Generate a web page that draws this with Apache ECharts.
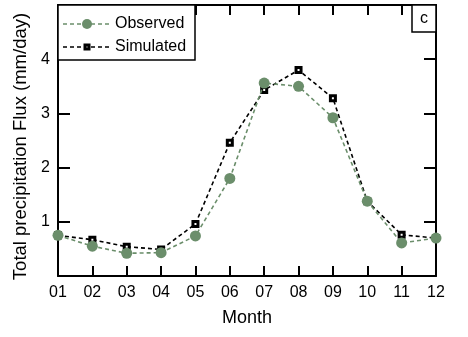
<!DOCTYPE html>
<html><head><meta charset="utf-8">
<script src="https://cdn.jsdelivr.net/npm/echarts@6/dist/echarts.min.js"></script>
<style>html,body{margin:0;padding:0;background:#fff}#c{width:468px;height:337px}</style>
</head><body><div id="c"></div>
<script>
var months = [1,2,3,4,5,6,7,8,9,10,11,12];
var observed = [0.75,0.55,0.42,0.43,0.74,1.80,3.56,3.50,2.92,1.38,0.61,0.70];
var simulated = [0.75,0.67,0.54,0.49,0.96,2.46,3.43,3.80,3.28,1.38,0.76,0.70];
var yTicks = [1,2,3,4];
var seriesNames = ['Observed','Simulated'];
var panelLabel = 'c';

var green = '#6b8e6b';
var font = 'Liberation Sans, Arial, sans-serif';
function pairs(v){ return months.map(function(m,i){ return [m, v[i]]; }); }
var chart = echarts.init(document.getElementById('c'));
var axisBase = {
  axisLine:{show:true,onZero:false,lineStyle:{color:'#000',width:2}},
  splitLine:{show:false}
};
chart.setOption({
  animation:false,
  grid:{left:58,right:32,top:5,bottom:61},
  xAxis:[
    Object.assign({}, axisBase, {type:'value',min:1,max:12,interval:1,position:'bottom',
      axisTick:{show:true,inside:true,length:10,lineStyle:{color:'#000',width:2}},
      axisLabel:{margin:9,color:'#000',fontSize:16,fontFamily:font,
        formatter:function(v){return (v<10?'0':'')+v;}},
      name:'Month',nameLocation:'middle',nameGap:33,
      nameTextStyle:{color:'#000',fontSize:18,fontFamily:font}}),
    Object.assign({}, axisBase, {type:'value',min:1,max:12,interval:1,position:'top',
      axisTick:{show:true,inside:true,length:10,lineStyle:{color:'#000',width:2}},
      axisLabel:{show:false}})
  ],
  yAxis:[
    Object.assign({}, axisBase, {type:'value',min:0,max:5,interval:1,position:'left',
      axisTick:{show:true,inside:true,length:12,lineStyle:{color:'#000',width:2}},
      axisLabel:{margin:8,color:'#000',fontSize:16,fontFamily:font,
        formatter:function(v){return yTicks.indexOf(v)>=0?String(v):'';}},
      name:'Total precipitation Flux (mm/day)',nameLocation:'middle',nameGap:22,
      nameTextStyle:{color:'#000',fontSize:18.5,fontFamily:font,padding:[0,12,0,0]}}),
    Object.assign({}, axisBase, {type:'value',min:0,max:5,interval:1,position:'right',
      axisTick:{show:true,inside:true,length:12,lineStyle:{color:'#000',width:2}},
      axisLabel:{show:false}})
  ],
  series:[
    {name:seriesNames[1],type:'line',data:pairs(simulated),symbol:'rect',symbolSize:5,
      lineStyle:{color:'#000',width:1.6,type:[4,3]},
      itemStyle:{color:'#fff',borderColor:'#000',borderWidth:3},z:2},
    {name:seriesNames[0],type:'line',data:pairs(observed),symbol:'circle',symbolSize:11,
      lineStyle:{color:green,width:1.6,type:[4,3]},itemStyle:{color:green},z:3}
  ],
  graphic:[
    {type:'rect',shape:{x:58,y:5,width:137,height:55},style:{fill:'#fff',stroke:'#000',lineWidth:1.5},z:10},
    {type:'line',shape:{x1:63,y1:24,x2:110,y2:24},style:{stroke:green,lineWidth:1.6,lineDash:[4,3]},z:11},
    {type:'circle',shape:{cx:87,cy:24,r:5},style:{fill:green},z:12},
    {type:'text',x:115,y:24,style:{text:seriesNames[0],fill:'#000',font:'16px '+font,verticalAlign:'middle'},z:12},
    {type:'line',shape:{x1:63,y1:47,x2:110,y2:47},style:{stroke:'#000',lineWidth:1.6,lineDash:[4,3]},z:11},
    {type:'rect',shape:{x:85,y:45,width:4,height:4},style:{fill:'#fff',stroke:'#000',lineWidth:3},z:12},
    {type:'text',x:115,y:47,style:{text:seriesNames[1],fill:'#000',font:'16px '+font,verticalAlign:'middle'},z:12},
    {type:'rect',shape:{x:412,y:5,width:24,height:27},style:{fill:'#fff',stroke:'#000',lineWidth:1.5},z:10},
    {type:'text',x:424,y:19,style:{text:panelLabel,fill:'#000',font:'16px '+font,align:'center',verticalAlign:'middle'},z:12}
  ]
});
</script></body></html>
